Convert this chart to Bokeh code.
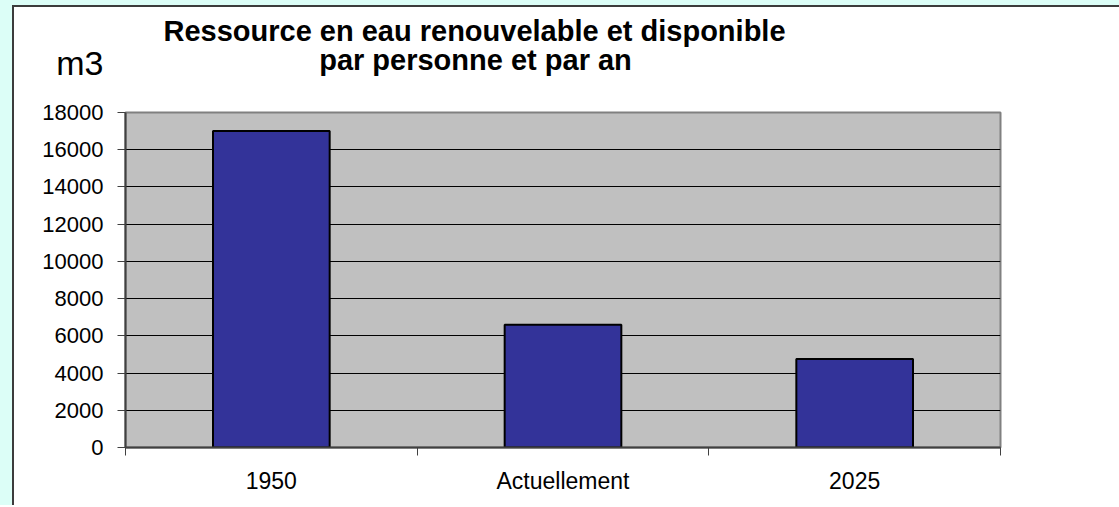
import numpy as np
from bokeh.plotting import figure
from bokeh.models import Range1d, FixedTicker, Label, ColumnDataSource, Spacer
from bokeh.layouts import row, column
from bokeh.embed import file_html
from bokeh.resources import INLINE

categories = ["1950", "Actuellement", "2025"]
values = [17000, 6600, 4750]
y_ticks = [0, 2000, 4000, 6000, 8000, 10000, 12000, 14000, 16000, 18000]
title_line1 = "Ressource en eau renouvelable et disponible"
title_line2 = "par personne et par an"
unit_label = "m3"

FONT = "Liberation Sans"
CYAN = "#dcfef7"
DARK = "#3c3c3c"
W = 1105
HEAD_H = 91
CHART_H = 407

# ---------- header (titles + unit) ----------
head = figure(width=W, height=HEAD_H, output_backend="svg", toolbar_location=None,
              x_range=Range1d(0, W), y_range=Range1d(HEAD_H, 0),
              x_axis_type=None, y_axis_type=None, min_border=0)
head.outline_line_color = None
head.background_fill_color = "white"
head.border_fill_color = "white"
head.add_layout(Label(x=460, y=23, text=title_line1, text_align="center",
                      text_baseline="alphabetic", text_font=FONT, text_font_style="bold",
                      text_font_size="29px", text_color="black"))
head.add_layout(Label(x=461, y=52, text=title_line2, text_align="center",
                      text_baseline="alphabetic", text_font=FONT, text_font_style="bold",
                      text_font_size="29px", text_color="black"))
head.add_layout(Label(x=89, y=55, text=unit_label, text_align="right",
                      text_baseline="alphabetic", text_font=FONT,
                      text_font_size="34px", text_color="black"))

# ---------- chart ----------
xpos = np.arange(len(categories)) + 0.5
src = ColumnDataSource(dict(x=xpos, top=values, cat=categories))

p = figure(width=W, height=CHART_H, output_backend="svg", toolbar_location=None,
           x_range=Range1d(0, len(categories)), y_range=Range1d(y_ticks[0], y_ticks[-1]),
           min_border_left=111, min_border_top=14, min_border_right=119, min_border_bottom=58)
p.background_fill_color = "#c0c0c0"
p.border_fill_color = "white"
p.outline_line_color = "#808080"
p.outline_line_width = 2

for fig in (head, p):
    if "frame_align" in fig.properties():
        fig.frame_align = False

p.vbar(x="x", top="top", bottom=0, width=0.4, source=src,
       fill_color="#333399", line_color="black", line_width=2)

p.yaxis.ticker = FixedTicker(ticks=y_ticks)
p.yaxis.major_label_overrides = {t: str(t) for t in y_ticks}
p.yaxis.major_label_text_font = FONT
p.yaxis.major_label_text_font_size = "22px"
p.yaxis.major_label_text_color = "black"
p.yaxis.major_label_standoff = 14
p.yaxis.major_tick_out = 8
p.yaxis.major_tick_in = 0
p.yaxis.major_tick_line_color = "#404040"
p.yaxis.minor_tick_line_color = None
p.yaxis.axis_line_color = "#404040"
p.yaxis.axis_line_width = 2

p.xaxis.ticker = FixedTicker(ticks=list(xpos), minor_ticks=list(range(len(categories) + 1)))
p.xaxis.major_label_overrides = {float(x): c for x, c in zip(xpos, categories)}
p.xaxis.major_label_text_font = FONT
p.xaxis.major_label_text_font_size = "23px"
p.xaxis.major_label_text_color = "black"
p.xaxis.major_tick_line_color = None
p.xaxis.major_tick_out = 0
p.xaxis.major_tick_in = 0
p.xaxis.major_label_standoff = 12
p.xaxis.minor_tick_out = 8
p.xaxis.minor_tick_in = 0
p.xaxis.minor_tick_line_color = "#404040"
p.xaxis.axis_line_color = "#404040"
p.xaxis.axis_line_width = 2

p.xgrid.grid_line_color = None
p.ygrid.ticker = FixedTicker(ticks=y_ticks)
p.ygrid.grid_line_color = "black"
p.ygrid.grid_line_width = 1

# ---------- cyan surround and dark border ----------
TOTAL_H = 2 + HEAD_H + CHART_H
inner = column(Spacer(width=W, height=2, styles={"background-color": DARK}), head, p, spacing=0)
bordered = row(Spacer(width=2, height=TOTAL_H, styles={"background-color": DARK}), inner, spacing=0)
right_part = column(Spacer(width=W + 2, height=5, styles={"background-color": CYAN}), bordered, spacing=0)
layout = row(Spacer(width=12, height=5 + TOTAL_H, styles={"background-color": CYAN}),
             right_part, spacing=0)

open("out.html", "w").write(file_html(layout, INLINE))
